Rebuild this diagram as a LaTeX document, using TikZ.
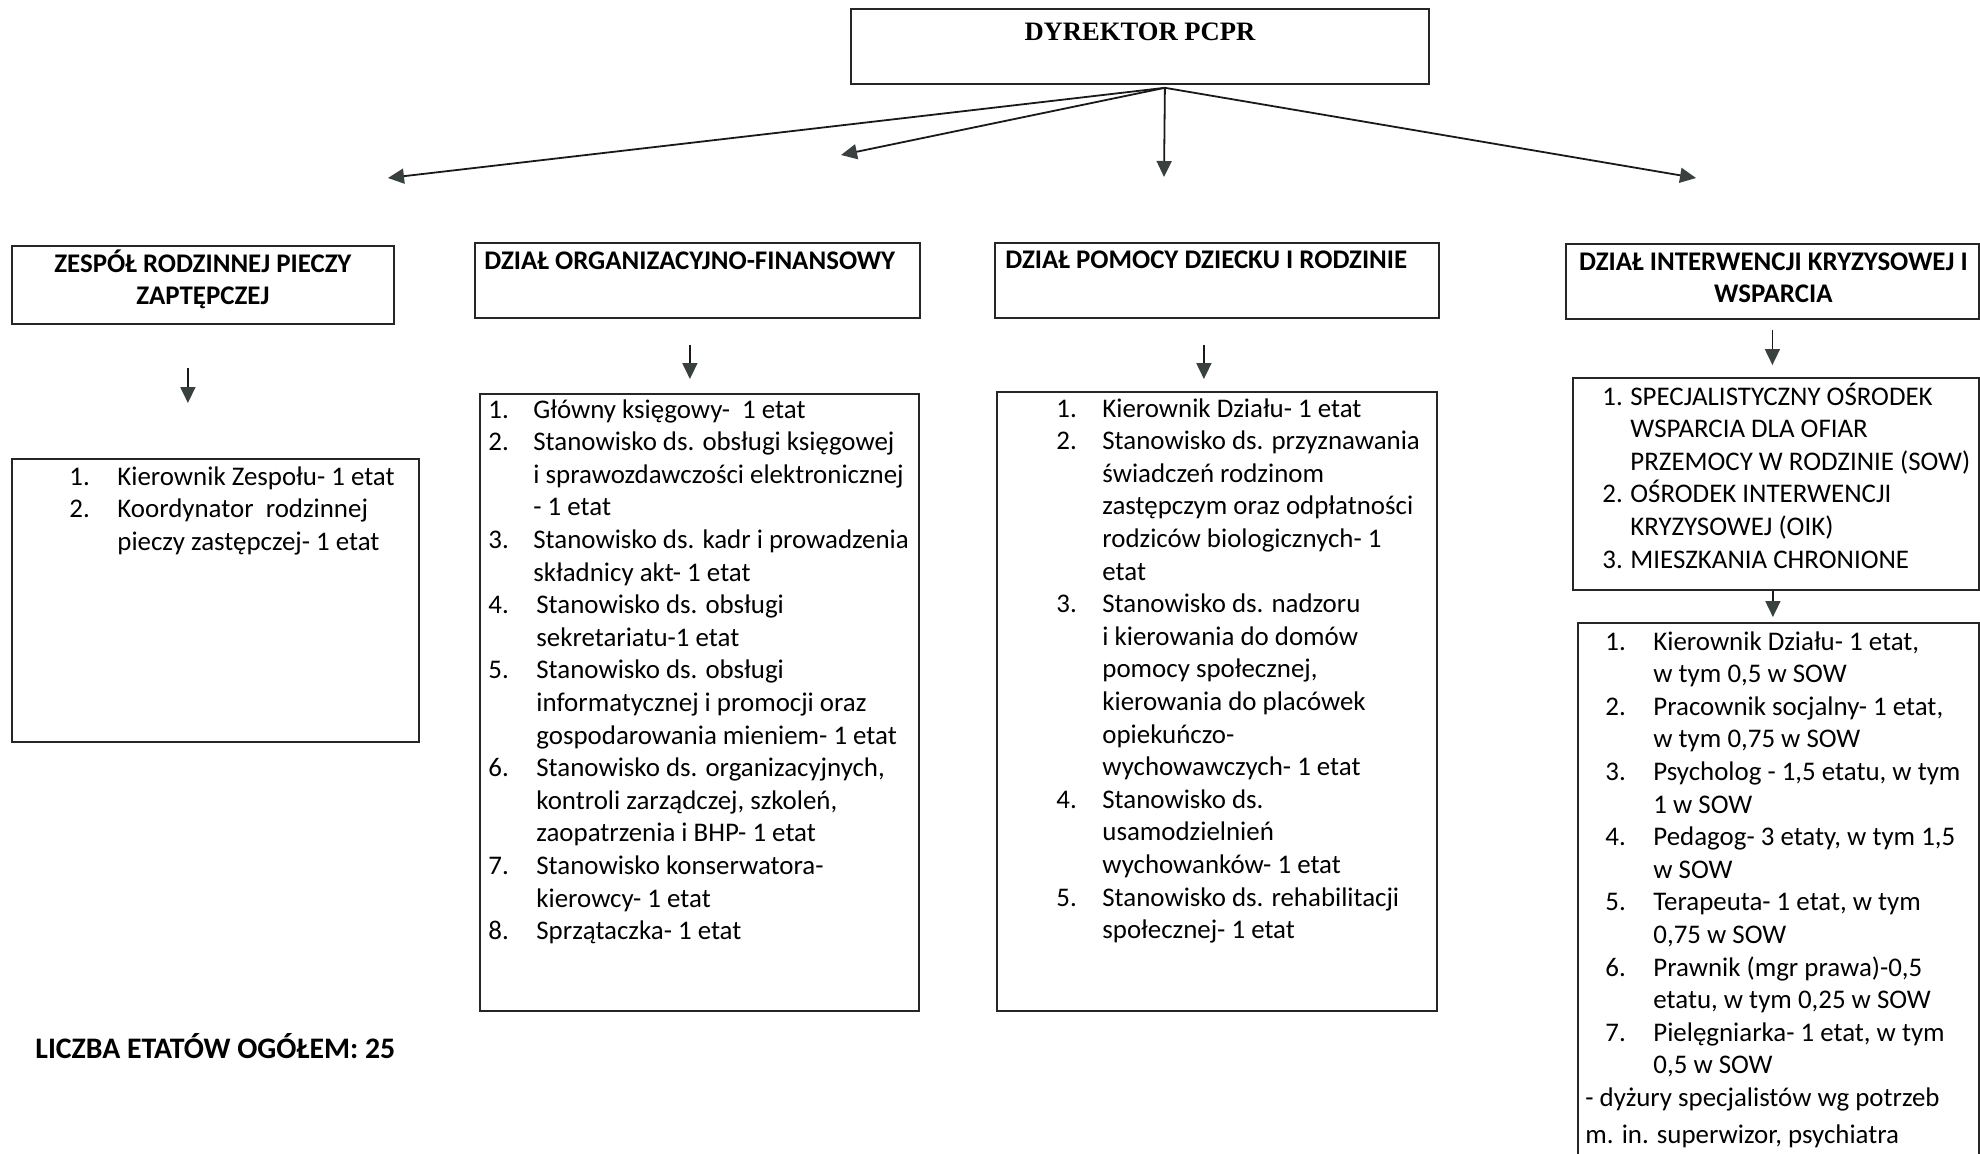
\documentclass[tikz,border=0pt]{standalone}
\usepackage{fontspec}
\setmainfont{Carlito}
\newfontfamily\serifbold{Liberation Serif}
\usepackage{tikz}
\usetikzlibrary{positioning, arrows.meta, calc}
\definecolor{tipgray}{rgb}{0.22,0.25,0.25}
\newcommand{\bodyfont}{\fontsize{13.45}{16.3}\selectfont}
\newcommand{\sumfont}{\fontsize{14.9}{17.8}\selectfont\bfseries}
\tikzstyle{bx}=[%
      rectangle, draw=black!85, line width=0.9pt, fill=none,
      inner sep=0pt, anchor=north west
]
\tikzstyle{tx}=[%
      inner sep=0pt, anchor=base west, font=\bodyfont
]
\tikzstyle{hd}=[%
      inner sep=0pt, anchor=base, font=\bodyfont\bfseries
]
\tikzstyle{dn}=[%
      line width=0.9pt, draw=black!90,
      -{Triangle[length=8pt, width=7.5pt, color=tipgray]}
]

\begin{document}
\begin{tikzpicture}[x=0.5pt, y=-0.5pt]
    \useasboundingbox (0,0) rectangle (1980,1153);
    \clip (0,0) rectangle (1980,1153);

    \node[bx, minimum width=289pt, minimum height=37.5pt] (dir) at (850,8) {};
    \node[hd, font=\fontsize{13.3}{16}\selectfont\serifbold\bfseries] (dirlbl)
        at ([yshift=-16pt]dir.north) {DYREKTOR PCPR};

    \node[bx, minimum width=191pt, minimum height=39pt] (zesp) at (11,245) {};
    \node[bx, minimum width=222.5pt, minimum height=37.5pt] (org) at (474,242) {};
    \node[bx, minimum width=222pt, minimum height=37.5pt] (pom) at (994,242) {};
    \node[bx, minimum width=206.5pt, minimum height=37.5pt] (int) at (1565,243) {};

    \node[hd] (zesplbl) at ([yshift=-13.5pt]zesp.north)
        {\begin{tabular}[t]{@{}c@{}}ZESPÓŁ RODZINNEJ PIECZY\\ZAPTĘPCZEJ\end{tabular}};
    \node[hd, anchor=base west] (orglbl) at ([shift={(5pt,-13.5pt)}]org.north west)
        {DZIAŁ ORGANIZACYJNO-FINANSOWY};
    \node[hd, anchor=base west] (pomlbl) at ([shift={(5.5pt,-13pt)}]pom.north west)
        {DZIAŁ POMOCY DZIECKU I RODZINIE};
    \node[hd] (intlbl) at ([shift={(0.5pt,-13.5pt)}]int.north)
        {\begin{tabular}[t]{@{}c@{}}DZIAŁ INTERWENCJI KRYZYSOWEJ I\\WSPARCIA\end{tabular}};

    \node[bx, minimum width=203.5pt, minimum height=141.5pt] (l1) at (11,458) {};
    \node[bx, minimum width=219.5pt, minimum height=308.5pt] (l2) at (479,393) {};
    \node[bx, minimum width=220pt, minimum height=309.5pt] (l3) at (996,391) {};
    \node[bx, minimum width=203pt, minimum height=106pt] (sow) at (1572,377) {};
    \node[bx, minimum width=200.5pt, minimum height=280pt] (staff) at (1577,622) {};

    \node[tx] (l1txt) at ([shift={(29pt,-13.5pt)}]l1.north west) {%
      \begin{tabular}[t]{@{}p{24pt}@{}l@{}}
        1. & Kierownik Zespołu- 1 etat\\
        2. & Koordynator\ \ rodzinnej\\
           & pieczy zastępczej- 1 etat
      \end{tabular}};

    \node[tx] (l2txt) at ([shift={(4.5pt,-12.5pt)}]l2.north west) {%
      \begin{tabular}[t]{@{}p{22.5pt}@{}l@{}}
        1. & Główny księgowy-\ \ 1 etat\\
        2. & Stanowisko ds. obsługi księgowej\\
           & i sprawozdawczości elektronicznej\\
           & - 1 etat\\
        3. & Stanowisko ds. kadr i prowadzenia\\
           & składnicy akt- 1 etat\\
        4. & \hspace{1.5pt}Stanowisko ds. obsługi\\
           & \hspace{1.5pt}sekretariatu-1 etat\\
        5. & \hspace{1.5pt}Stanowisko ds. obsługi\\
           & \hspace{1.5pt}informatycznej i promocji oraz\\
           & \hspace{1.5pt}gospodarowania mieniem- 1 etat\\
        6. & \hspace{1.5pt}Stanowisko ds. organizacyjnych,\\
           & \hspace{1.5pt}kontroli zarządczej, szkoleń,\\
           & \hspace{1.5pt}zaopatrzenia i BHP- 1 etat\\
        7. & \hspace{1.5pt}Stanowisko konserwatora-\\
           & \hspace{1.5pt}kierowcy- 1 etat\\
        8. & \hspace{1.5pt}Sprzątaczka- 1 etat
      \end{tabular}};

    \node[tx] (l3txt) at ([shift={(30pt,-13pt)}]l3.north west) {%
      \begin{tabular}[t]{@{}p{23pt}@{}l@{}}
        1. & Kierownik Działu- 1 etat\\
        2. & Stanowisko ds. przyznawania\\
           & świadczeń rodzinom\\
           & zastępczym oraz odpłatności\\
           & rodziców biologicznych- 1\\
           & etat\\
        3. & Stanowisko ds. nadzoru\\
           & i kierowania do domów\\
           & pomocy społecznej,\\
           & kierowania do placówek\\
           & opiekuńczo-\\
           & wychowawczych- 1 etat\\
        4. & Stanowisko ds.\\
           & usamodzielnień\\
           & wychowanków- 1 etat\\
        5. & Stanowisko ds. rehabilitacji\\
           & społecznej- 1 etat
      \end{tabular}};

    \node[tx] (sowtxt) at ([shift={(15pt,-14pt)}]sow.north west) {%
      \begin{tabular}[t]{@{}p{14pt}@{}l@{}}
        1. & SPECJALISTYCZNY OŚRODEK\\
           & WSPARCIA DLA OFIAR\\
           & PRZEMOCY W RODZINIE (SOW)\\
        2. & OŚRODEK INTERWENCJI\\
           & KRYZYSOWEJ (OIK)\\
        3. & MIESZKANIA CHRONIONE
      \end{tabular}};

    \node[tx] (stafftxt) at ([shift={(4pt,-14pt)}]staff.north west) {%
      \begin{tabular}[t]{@{\hspace{10pt}}p{24pt}@{}l@{}}
        1. & Kierownik Działu- 1 etat,\\
           & w tym 0,5 w SOW\\
        2. & Pracownik socjalny- 1 etat,\\
           & w tym 0,75 w SOW\\
        3. & Psycholog - 1,5 etatu, w tym\\
           & 1 w SOW\\
        4. & Pedagog- 3 etaty, w tym 1,5\\
           & w SOW\\
        5. & Terapeuta- 1 etat, w tym\\
           & 0,75 w SOW\\
        6. & Prawnik (mgr prawa)-0,5\\
           & etatu, w tym 0,25 w SOW\\
        7. & Pielęgniarka- 1 etat, w tym\\
           & 0,5 w SOW\\
        \multicolumn{2}{@{}l@{}}{- dyżury specjalistów wg potrzeb}\\[2pt]
        \multicolumn{2}{@{}l@{}}{m. in. superwizor, psychiatra}
      \end{tabular}};

    \node[tx, font=\sumfont] (total) at (35,1058) {LICZBA ETATÓW OGÓŁEM: 25};

    \coordinate (hub) at ([xshift=12.5pt, yshift=-1.5pt]dir.south);
    \coordinate (t1) at (388,178);
    \coordinate (t2) at (841,155);
    \coordinate (t3) at (1164,177);
    \coordinate (t4) at (1696,178);
    \foreach \t in {t1,t2,t3,t4}
        \draw[dn] (hub) -- (\t);

    \draw[dn, shorten <=21.5pt, shorten >=27.5pt] ([xshift=-7.5pt]zesp.south) -- ([xshift=-7.5pt]zesp.south |- l1.north);
    \draw[dn, shorten <=13pt, shorten >=7pt] ([xshift=-3.75pt]org.south) -- ([xshift=-3.75pt]org.south |- l2.north);
    \draw[dn, shorten <=13pt, shorten >=6pt] ([xshift=-6.5pt]pom.south) -- ([xshift=-6.5pt]pom.south |- l3.north);
    \draw[dn, shorten <=5pt, shorten >=6pt] (int.south) -- (int.south |- sow.north);
    \draw[dn, shorten >=2.5pt] ([xshift=-1.5pt]sow.south) -- ([xshift=-1.5pt]sow.south |- staff.north);

\end{tikzpicture}
\end{document}
